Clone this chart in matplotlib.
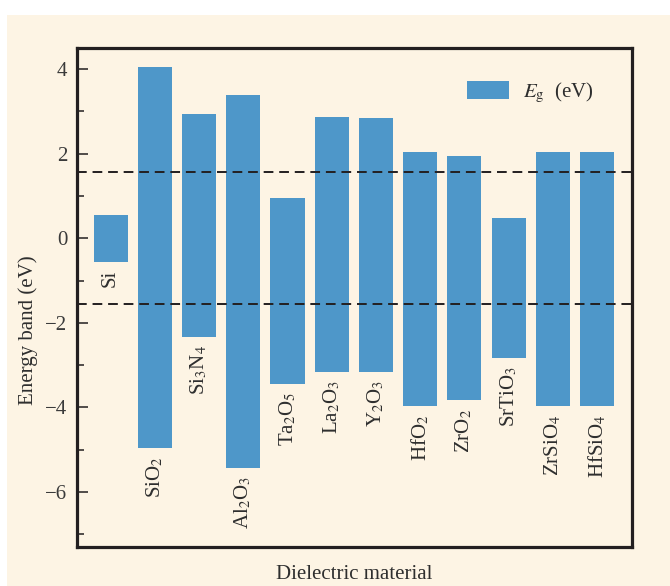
import numpy as np
import matplotlib
matplotlib.use('Agg')
from matplotlib import pyplot as plt
from matplotlib.patches import Rectangle
from matplotlib.ticker import MultipleLocator, FuncFormatter

plt.rcParams['font.family'] = ['Liberation Serif', 'DejaVu Serif']
plt.rcParams['mathtext.fontset'] = 'stix'

# materials, conduction band edge and valence band edge (eV), Si midgap = 0
materials = [r'Si', r'SiO$_2$', r'Si$_3$N$_4$', r'Al$_2$O$_3$', r'Ta$_2$O$_5$', r'La$_2$O$_3$',
             r'Y$_2$O$_3$', r'HfO$_2$', r'ZrO$_2$', r'SrTiO$_3$', r'ZrSiO$_4$', r'HfSiO$_4$']
cb = [0.56, 4.04, 2.95, 3.39, 0.96, 2.86, 2.85, 2.04, 1.95, 0.48, 2.04, 2.04]
vb = [-0.55, -4.96, -2.33, -5.43, -3.44, -3.16, -3.16, -3.97, -3.83, -2.82, -3.97, -3.97]
dash_levels = [1.56, -1.56]

cream = '#fdf4e4'
barColor = '#4e97c9'
ink = '#231f20'

f = plt.figure(figsize=(6.7, 5.86), dpi=100)
f.patch.set_facecolor('white')
bg = Rectangle((7 / 670., 0), 1 - 7 / 670., (586 - 15) / 586., transform=f.transFigure,
               facecolor=cream, edgecolor='none', zorder=-10)
f.add_artist(bg)

ax = f.add_axes([77 / 670., 39 / 586., 555 / 670., 499 / 586.])
ax.set_zorder(1)
ax.set_facecolor(cream)

x = np.arange(len(materials))
heights = np.array(cb) - np.array(vb)
ax.bar(x, heights, bottom=vb, width=0.77, color=barColor, label=r'$E_{\rm g}$  (eV)', zorder=2)

for yy in dash_levels:
    ax.axhline(yy, color=ink, lw=1.4, ls=(0, (5, 3)), zorder=3)

for xi, name, low in zip(x, materials, vb):
    ax.annotate(name, (xi, low), xytext=(0, -6), textcoords='offset points',
                rotation=90, ha='center', va='top', fontsize=15, color='#2e2e2e')

ax.set_xlim(-0.76, 11.79)
ax.set_ylim(-7.3, 4.5)
ax.set_xticks([])
ax.yaxis.set_major_locator(MultipleLocator(2))
ax.yaxis.set_minor_locator(MultipleLocator(1))
ax.yaxis.set_major_formatter(FuncFormatter(
    lambda v, p: ('\u2212%d' % abs(v)) if v < 0 else '%d' % v))
ax.tick_params(axis='y', which='major', direction='in', length=8, width=1.1, labelsize=15,
               pad=7, colors=ink, labelcolor='#3a3a3a')
ax.tick_params(axis='y', which='minor', direction='in', length=5, width=1.1, colors=ink)

for s in ax.spines.values():
    s.set_linewidth(2.3)
    s.set_color(ink)

ax.set_ylabel('Energy band (eV)', fontsize=15, color='#2e2e2e')
ax.yaxis.set_label_coords(-0.071, 0.435)
ax.set_xlabel('Dielectric material', fontsize=15, color='#2e2e2e', labelpad=13)

ax.legend(loc='center left', bbox_to_anchor=(0.684, 0.910), frameon=False, fontsize=15,
          borderpad=0, handlelength=2.0, handleheight=0.93, handletextpad=0.7, labelcolor='#2e2e2e')

f.savefig('out.png', dpi=100, facecolor=f.get_facecolor())
